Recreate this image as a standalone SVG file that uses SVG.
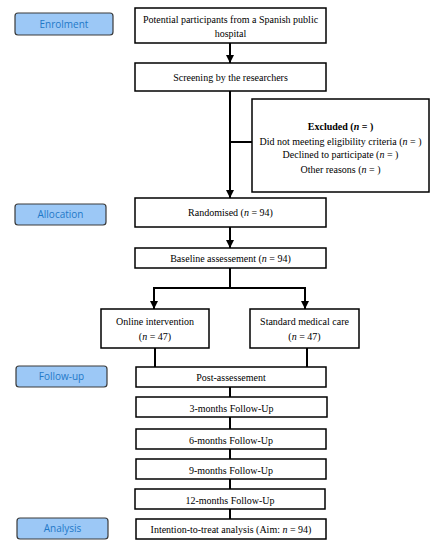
<svg xmlns="http://www.w3.org/2000/svg" width="437" height="550" viewBox="0 0 437 550">
<style>
.lbl rect{fill:#9cc8f6;stroke:#3a3a3a;stroke-width:1.2}
.lbl text{font-family:"Open Sans","Liberation Sans",sans-serif;font-size:10px;fill:#1f78c8;text-anchor:middle}
.box rect{fill:#fff;stroke:#000;stroke-width:1.5}
.box text{font-family:"Liberation Serif",serif;font-size:10px;fill:#000;text-anchor:middle}
.conn{stroke:#000;stroke-width:2;fill:none}
</style>
<defs>
<marker id="ah" viewBox="0 0 10 10" refX="10" refY="5" markerWidth="4" markerHeight="4" orient="auto" markerUnits="strokeWidth">
<path d="M0,0 L10,5 L0,10 z" fill="#000"/>
</marker>
</defs>
<g id="label-enrolment" class="lbl"><rect x="15" y="13" width="98" height="22" rx="3"/><text x="64" y="27.5">Enrolment</text></g>
<g id="label-allocation" class="lbl"><rect x="15" y="204" width="91" height="21" rx="3"/><text x="60.5" y="218">Allocation</text></g>
<g id="label-followup" class="lbl"><rect x="16" y="366" width="91" height="21" rx="3"/><text x="61.5" y="380">Follow-up</text></g>
<g id="label-analysis" class="lbl"><rect x="17" y="518" width="91" height="21" rx="3"/><text x="62.5" y="532">Analysis</text></g>

<g id="connectors">
<line class="conn" x1="230" y1="43" x2="230" y2="63" marker-end="url(#ah)"/>
<line class="conn" x1="230" y1="91" x2="230" y2="198" marker-end="url(#ah)"/>
<line class="conn" x1="230" y1="142" x2="252" y2="142"/>
<line class="conn" x1="230" y1="227" x2="230" y2="248" marker-end="url(#ah)"/>
<polyline class="conn" points="230,268 230,288"/>
<polyline class="conn" points="154,309 154,288 305,288 305,309" marker-end="url(#ah)"/>
<line class="conn" x1="154" y1="288" x2="154" y2="309" marker-end="url(#ah)"/>
<line class="conn" x1="155" y1="348" x2="155" y2="367"/>
<line class="conn" x1="307" y1="348" x2="307" y2="367"/>
<line class="conn" x1="230" y1="387" x2="230" y2="397"/>
<line class="conn" x1="230" y1="417" x2="230" y2="429"/>
<line class="conn" x1="230" y1="449" x2="230" y2="459"/>
<line class="conn" x1="230" y1="479" x2="230" y2="489"/>
<line class="conn" x1="230" y1="509" x2="230" y2="519"/>
</g>

<g id="node-potential" class="box"><rect x="135" y="8" width="191" height="35"/><text x="230.5" y="23">Potential participants from a Spanish public</text><text x="230.5" y="37">hospital</text></g>
<g id="node-screening" class="box"><rect x="135" y="63" width="191" height="28"/><text x="230.5" y="80.5">Screening by the researchers</text></g>
<g id="node-excluded" class="box"><rect x="252" y="99" width="177" height="93" stroke-width="2"/>
<text x="340.5" y="130" font-weight="bold">Excluded (<tspan font-style="italic">n</tspan> = )</text>
<text x="340.5" y="145">Did not meeting eligibility criteria (<tspan font-style="italic">n</tspan> = )</text>
<text x="340.5" y="158">Declined to participate (<tspan font-style="italic">n</tspan> = )</text>
<text x="340.5" y="173">Other reasons (<tspan font-style="italic">n</tspan> = )</text></g>
<g id="node-randomised" class="box"><rect x="135" y="198" width="191" height="29"/><text x="230.5" y="216">Randomised (<tspan font-style="italic">n</tspan> = 94)</text></g>
<g id="node-baseline" class="box"><rect x="135" y="248" width="191" height="20"/><text x="230.5" y="261.5">Baseline assessement (<tspan font-style="italic">n</tspan> = 94)</text></g>
<g id="node-online" class="box"><rect x="101" y="309" width="108" height="39"/><text x="155" y="325">Online intervention</text><text x="155" y="340">(<tspan font-style="italic">n</tspan> = 47)</text></g>
<g id="node-standard" class="box"><rect x="250" y="309" width="109" height="39"/><text x="304.5" y="325">Standard medical care</text><text x="304.5" y="340">(<tspan font-style="italic">n</tspan> = 47)</text></g>
<g id="node-post" class="box"><rect x="136" y="367" width="190" height="20"/><text x="231" y="381">Post-assessement</text></g>
<g id="node-3m" class="box"><rect x="136" y="397" width="191" height="20"/><text x="231.5" y="412">3-months Follow-Up</text></g>
<g id="node-6m" class="box"><rect x="136" y="429" width="190" height="20"/><text x="231" y="444">6-months Follow-Up</text></g>
<g id="node-9m" class="box"><rect x="136" y="459" width="190" height="20"/><text x="231" y="474">9-months Follow-Up</text></g>
<g id="node-12m" class="box"><rect x="135" y="489" width="190" height="20"/><text x="230" y="504">12-months Follow-Up</text></g>
<g id="node-itt" class="box"><rect x="136" y="519" width="190" height="20"/><text x="231" y="533">Intention-to-treat analysis (Aim: <tspan font-style="italic">n</tspan> = 94)</text></g>
</svg>
